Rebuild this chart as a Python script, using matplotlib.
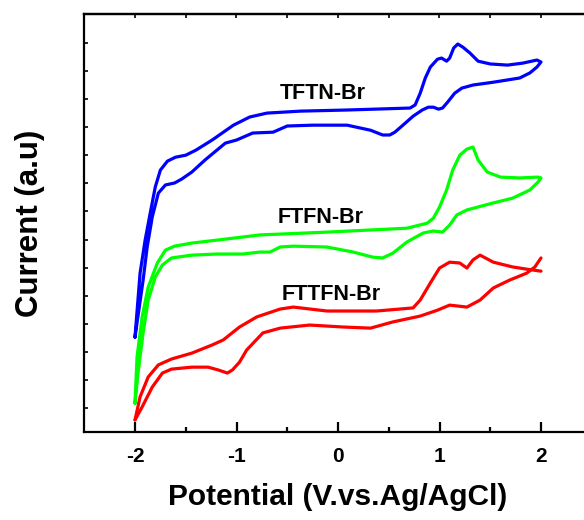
import numpy as np
import matplotlib
matplotlib.use("Agg")
import matplotlib.pyplot as plt

plt.rcParams['font.family'] = ['Liberation Sans', 'DejaVu Sans']

# ---- data ----
# TFTN-Br (blue): closed loop, upper branch -2 -> 2, then lower branch 2 -> -2
tftn_v = [-2.00, -1.95, -1.90, -1.85, -1.80, -1.75, -1.68, -1.60, -1.50, -1.40, -1.24, -1.03,
          -0.87, -0.70, -0.37, 0.09, 0.71, 0.76, 0.81, 0.86, 0.91, 0.98, 1.02, 1.07, 1.10, 1.14,
          1.18, 1.23, 1.30, 1.38, 1.50, 1.67, 1.82, 1.96, 2.00,
          1.96, 1.89, 1.79, 1.53, 1.33, 1.22, 1.15, 1.08, 1.03, 0.99, 0.94, 0.89, 0.83, 0.74,
          0.64, 0.56, 0.51, 0.44, 0.32, 0.09, -0.25, -0.50, -0.64, -0.84, -1.00, -1.11, -1.31,
          -1.44, -1.54, -1.61, -1.70, -1.77, -1.83, -1.88, -1.92, -2.00]
tftn_i = [3.38, 5.66, 6.84, 7.80, 8.73, 9.33, 9.65, 9.79, 9.86, 10.04, 10.40, 10.93,
          11.22, 11.36, 11.43, 11.47, 11.54, 11.65, 12.07, 12.61, 13.00, 13.28, 13.32, 13.21, 13.32, 13.68,
          13.82, 13.71, 13.50, 13.21, 13.11, 13.07, 13.14, 13.25, 13.18,
          13.00, 12.79, 12.61, 12.46, 12.36, 12.25, 12.07, 11.75, 11.54, 11.50, 11.57, 11.57, 11.47, 11.25,
          10.93, 10.68, 10.58, 10.58, 10.75, 10.93, 10.93, 10.90, 10.68, 10.65, 10.40, 10.29, 9.69,
          9.26, 9.01, 8.87, 8.80, 8.51, 7.66, 6.59, 5.41, 3.38]

# FTFN-Br (green)
ftfn_v = [-2.00, -1.98, -1.93, -1.87, -1.78, -1.70, -1.61, -1.44, -1.02, -0.77, -0.11,
          0.68, 0.88, 0.94, 1.00, 1.07, 1.13, 1.20, 1.27, 1.33, 1.38, 1.47, 1.60, 1.79, 1.97, 2.00,
          1.97, 1.89, 1.72, 1.53, 1.27, 1.17, 1.10, 1.03, 0.94, 0.84, 0.68, 0.54, 0.44, 0.34,
          0.15, -0.11, -0.44, -0.57, -0.67, -0.77, -0.94, -1.19, -1.44, -1.64, -1.73, -1.80,
          -1.87, -1.92, -1.97, -2.00]
ftfn_i = [1.03, 2.67, 4.10, 5.16, 6.02, 6.48, 6.62, 6.73, 6.91, 7.02, 7.12,
          7.26, 7.44, 7.62, 8.01, 8.62, 9.33, 9.86, 10.08, 10.15, 9.69, 9.26, 9.08, 9.05, 9.08, 9.05,
          8.90, 8.62, 8.33, 8.16, 7.91, 7.73, 7.37, 7.12, 7.16, 7.09, 6.77, 6.37, 6.20, 6.23,
          6.41, 6.59, 6.62, 6.59, 6.41, 6.41, 6.34, 6.34, 6.30, 6.20, 5.95, 5.52,
          4.70, 3.53, 2.10, 1.03]

# FTTFN-Br (red): forward scan -2 -> 2 and reverse scan 2 -> -2
fttfn_fwd_v = [-2.00, -1.93, -1.83, -1.73, -1.64, -1.44, -1.28, -1.18, -1.09, -1.04, -0.97,
               -0.90, -0.74, -0.57, -0.28, 0.05, 0.32, 0.54, 0.81, 0.98, 1.10, 1.27, 1.40,
               1.53, 1.69, 1.86, 1.94, 2.00]
fttfn_fwd_i = [0.43, 0.89, 1.60, 2.10, 2.24, 2.31, 2.31, 2.21, 2.10, 2.21, 2.49,
               2.92, 3.53, 3.70, 3.81, 3.74, 3.70, 3.92, 4.13, 4.34, 4.52, 4.45, 4.70,
               5.13, 5.41, 5.66, 5.88, 6.20]
fttfn_rev_v = [2.00, 1.86, 1.72, 1.53, 1.40, 1.33, 1.27, 1.20, 1.10, 1.00, 0.91, 0.81, 0.74,
               0.38, -0.11, -0.44, -0.57, -0.80, -0.97, -1.13, -1.24, -1.44, -1.64, -1.77,
               -1.87, -1.95, -2.00]
fttfn_rev_i = [5.73, 5.80, 5.88, 6.05, 6.30, 6.13, 5.84, 6.02, 6.05, 5.84, 5.31, 4.70, 4.42,
               4.31, 4.31, 4.45, 4.38, 4.10, 3.74, 3.28, 3.10, 2.81, 2.60, 2.39,
               1.96, 1.25, 0.43]

labels = ["TFTN-Br", "FTFN-Br", "FTTFN-Br"]
label_v = [-0.57, -0.59, -0.56]
label_i = [11.86, 7.44, 4.70]

x_major = [-2, -1, 0, 1, 2]
x_tick_labels = ["-2", "-1", "0", "1", "2"]

# ---- figure ----
W, H = 584, 520
fig = plt.figure(figsize=(W / 100, H / 100), dpi=100)
ax = fig.add_axes([84.25 / W, (H - 432) / H, 507.5 / W, 418 / H])

lw = 2.3
style = dict(lw=lw, solid_joinstyle="round", solid_capstyle="round")
ax.plot(tftn_v, tftn_i, color="#0000ff", **style)
ax.plot(ftfn_v, ftfn_i, color="#00ff00", **style)
ax.plot(fttfn_fwd_v, fttfn_fwd_i, color="#ff0000", **style)
ax.plot(fttfn_rev_v, fttfn_rev_i, color="#ff0000", **style)

for t, xv, yv in zip(labels, label_v, label_i):
    ax.text(xv, yv, t, fontsize=15.5, fontweight="bold", ha="left", va="baseline", color="black")

ax.set_xlim(-2.5, 2.5)
ax.set_ylim(0, 14.89)

ax.set_xticks(x_major)
ax.set_xticklabels(x_tick_labels)
ax.set_xticks([-1.5, -0.5, 0.5, 1.5], minor=True)
ax.set_yticks(np.arange(0.855, 14.5, 1.0))
ax.set_yticklabels([])

for s in ax.spines.values():
    s.set_linewidth(1.6)

ax.tick_params(axis="x", which="major", direction="in", length=7, width=1.6,
               labelsize=15, pad=11)
ax.tick_params(axis="x", which="minor", direction="in", length=3.5, width=1.6)
ax.tick_params(axis="y", which="major", direction="in", length=3, width=1.2)
for lab in ax.get_xticklabels():
    lab.set_fontweight("bold")

sec = ax.secondary_xaxis("top")
sec.set_xticks(np.arange(-2.5, 2.51, 0.5))
sec.set_xticklabels([])
sec.tick_params(direction="in", length=3, width=1.2)
sec.spines["top"].set_linewidth(1.6)

ax.set_xlabel("Potential (V.vs.Ag/AgCl)", fontsize=21.5, fontweight="bold", labelpad=12)
ax.set_ylabel("Current (a.u)", fontsize=22.5, fontweight="bold", labelpad=25)

fig.savefig("out.png", dpi=100)
